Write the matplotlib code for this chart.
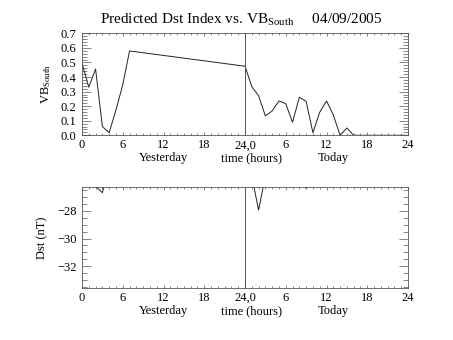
import matplotlib
matplotlib.use('Agg')

import matplotlib.pyplot as plt
from matplotlib.ticker import MultipleLocator, FixedLocator, FormatStrFormatter

# fonts: thin serif, close to the plotting-package default
plt.rcParams['font.family'] = 'Liberation Serif'
plt.rcParams['mathtext.fontset'] = 'custom'
plt.rcParams['mathtext.rm'] = 'Liberation Serif'
plt.rcParams['mathtext.it'] = 'Liberation Serif'

# VB south, yesterday (hourly, data gap after hour 7)
hours_yest = [0, 1, 2, 3, 4, 5, 6, 7]
vb_yest = [0.494, 0.33, 0.455, 0.06, 0.018, 0.174, 0.346, 0.579]

# VB south, today (hourly)
hours_today = [0, 1, 2, 3, 4, 5, 6, 7, 8, 9, 10, 11, 12,
               13, 14, 15, 16, 17, 18, 19, 20, 21, 22, 23, 24]
vb_today = [0.474, 0.334, 0.272, 0.133, 0.167, 0.236, 0.217, 0.089, 0.261,
            0.233, 0.018, 0.158, 0.236, 0.14, 0.0, 0.05, 0.0, 0.0, 0.0,
            0.0, 0.0, 0.0, 0.0, 0.0, 0.0]

# Dst, mostly above the plotted range
dst_hours_yest = [0, 1, 2, 3, 4, 5, 6]
dst_yest = [-23.0, -24.5, -26.25, -26.7, -24.9, -23.0, -22.0]
dst_hours_today = [1, 2, 3, 4, 5, 6, 7, 8, 9, 10, 11]
dst_today = [-25.5, -27.95, -25.5, -23.0, -21.0, -20.0, -21.0, -22.0,
             -26.4, -22.0, -21.0]

xtick_pos = [0, 6, 12, 18, 24, 30, 36, 42, 48]
xtick_labels = ['0', '6', '12', '18', '24,0', '6', '12', '18', '24']

W, H = 453, 340
fig = plt.figure(figsize=(W / 100, H / 100), dpi=100)
ax1 = fig.add_axes([82 / W, 1 - 135.3 / H, 326 / W, 102 / H])
ax2 = fig.add_axes([82 / W, 1 - 288 / H, 326 / W, 101.3 / H])

lw = 0.7
lc = '#222222'
fs = 9


def style_axes(ax, row_y):
    ax.set_xlim(0, 48)
    ax.xaxis.set_major_locator(FixedLocator(xtick_pos))
    ax.xaxis.set_minor_locator(MultipleLocator(1))
    ax.set_xticklabels(xtick_labels)
    ax.tick_params(which='both', direction='in', top=True, right=True,
                   width=0.5, color='#555555', labelsize=fs, pad=4)
    ax.tick_params(axis='x', which='major', length=2.2, pad=3)
    ax.tick_params(axis='x', which='minor', length=1.2)
    ax.tick_params(axis='y', which='major', length=6.5)
    ax.tick_params(axis='y', which='minor', length=3.3)
    for s in ax.spines.values():
        s.set_linewidth(0.6)
        s.set_color('#555555')
    ax.axvline(24, color='#555555', lw=0.7)
    tr = ax.get_xaxis_transform()
    ax.text(12, row_y, 'Yesterday', transform=tr, ha='center', va='center', fontsize=fs)
    ax.text(25, row_y, 'time (hours)', transform=tr, ha='center', va='center', fontsize=fs)
    ax.text(37, row_y, 'Today', transform=tr, ha='center', va='center', fontsize=fs)


# top panel: VB south
x_today = [h + 24 for h in hours_today]
ax1.plot(hours_yest + [x_today[0]], vb_yest + [vb_today[0]], color=lc, lw=lw)
ax1.plot(x_today, vb_today, color=lc, lw=lw)
ax1.set_ylim(0, 0.7)
ax1.yaxis.set_major_locator(MultipleLocator(0.1))
ax1.yaxis.set_minor_locator(MultipleLocator(0.02))
ax1.yaxis.set_major_formatter(FormatStrFormatter('%.1f'))
style_axes(ax1, -0.225)
ax1.set_ylabel(r'VB$_{\rm South}$', fontsize=fs)
ax1.yaxis.set_label_coords(-0.089, 0.5)
ax1.set_title(r'Predicted Dst Index vs. VB$_{\rm South}$     04/09/2005',
              fontsize=11, pad=7, x=0.488)

# bottom panel: Dst
ax2.plot(dst_hours_yest, dst_yest, color=lc, lw=lw)
ax2.plot([h + 24 for h in dst_hours_today], dst_today, color=lc, lw=lw)
ax2.set_ylim(-33.56, -26.27)
ax2.yaxis.set_major_locator(MultipleLocator(2))
ax2.yaxis.set_minor_locator(MultipleLocator(0.5))
style_axes(ax2, -0.23)
ax2.set_ylabel('Dst (nT)', fontsize=fs)
ax2.yaxis.set_label_coords(-0.104, 0.5)

fig.savefig('out.png', dpi=100)
